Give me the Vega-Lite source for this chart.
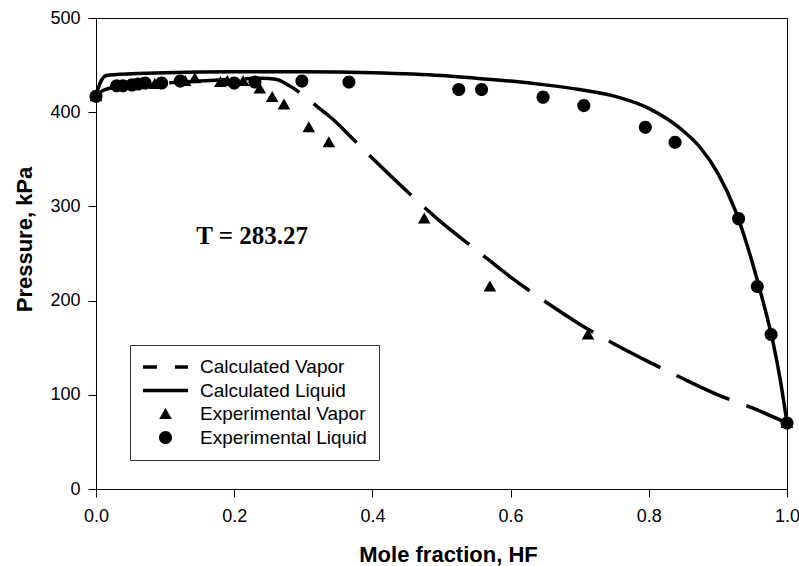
{
  "$schema": "https://vega.github.io/schema/vega-lite/v6.json",
  "width": 691,
  "height": 471,
  "autosize": {"type": "none"},
  "padding": {"left": 96, "top": 18, "right": 12, "bottom": 77},
  "background": "white",
  "config": {
    "view": {"stroke": "black", "strokeWidth": 1},
    "axis": {
      "grid": false,
      "domainColor": "black",
      "tickColor": "black",
      "labelColor": "black",
      "titleColor": "black",
      "labelFont": "Liberation Sans",
      "labelFontSize": 18,
      "titleFont": "Liberation Sans",
      "titleFontSize": 22,
      "titleFontWeight": "bold",
      "tickSize": 8,
      "labelFlush": false
    }
  },
  "datasets": {
    "liquid": [
      {"x": 0, "P": 417}, {"x": 0.003, "P": 425}, {"x": 0.008, "P": 434}, {"x": 0.015, "P": 439},
      {"x": 0.03, "P": 440}, {"x": 0.06, "P": 441}, {"x": 0.1, "P": 442}, {"x": 0.2, "P": 443},
      {"x": 0.3, "P": 443}, {"x": 0.4, "P": 442}, {"x": 0.5, "P": 439}, {"x": 0.55, "P": 436},
      {"x": 0.6, "P": 433}, {"x": 0.65, "P": 429}, {"x": 0.7, "P": 424}, {"x": 0.75, "P": 417},
      {"x": 0.8, "P": 404}, {"x": 0.85, "P": 380}, {"x": 0.875, "P": 362}, {"x": 0.9, "P": 335},
      {"x": 0.925, "P": 296}, {"x": 0.95, "P": 240}, {"x": 0.965, "P": 200}, {"x": 0.98, "P": 155},
      {"x": 0.99, "P": 117}, {"x": 1.0, "P": 70}
    ],
    "vapor": [
      {"x": 0, "P": 417}, {"x": 0.01, "P": 423}, {"x": 0.03, "P": 427}, {"x": 0.06, "P": 429},
      {"x": 0.1, "P": 431}, {"x": 0.15, "P": 433}, {"x": 0.2, "P": 435}, {"x": 0.24, "P": 436},
      {"x": 0.26, "P": 435}, {"x": 0.28, "P": 428}, {"x": 0.3, "P": 418}, {"x": 0.32, "P": 406},
      {"x": 0.342, "P": 393}, {"x": 0.37, "P": 373}, {"x": 0.4, "P": 351}, {"x": 0.45, "P": 316},
      {"x": 0.5, "P": 283}, {"x": 0.55, "P": 254}, {"x": 0.6, "P": 225}, {"x": 0.65, "P": 199},
      {"x": 0.7, "P": 175}, {"x": 0.75, "P": 154}, {"x": 0.8, "P": 135}, {"x": 0.85, "P": 117},
      {"x": 0.9, "P": 100}, {"x": 0.95, "P": 86}, {"x": 1.0, "P": 70}
    ],
    "points": [
      {"x": 0.0, "P": 417, "series": "Experimental Vapor"},
      {"x": 0.085, "P": 430, "series": "Experimental Vapor"},
      {"x": 0.129, "P": 433, "series": "Experimental Vapor"},
      {"x": 0.143, "P": 436, "series": "Experimental Vapor"},
      {"x": 0.18, "P": 432, "series": "Experimental Vapor"},
      {"x": 0.19, "P": 433, "series": "Experimental Vapor"},
      {"x": 0.213, "P": 433, "series": "Experimental Vapor"},
      {"x": 0.237, "P": 425, "series": "Experimental Vapor"},
      {"x": 0.255, "P": 416, "series": "Experimental Vapor"},
      {"x": 0.272, "P": 408, "series": "Experimental Vapor"},
      {"x": 0.308, "P": 384, "series": "Experimental Vapor"},
      {"x": 0.337, "P": 368, "series": "Experimental Vapor"},
      {"x": 0.475, "P": 287, "series": "Experimental Vapor"},
      {"x": 0.57, "P": 215, "series": "Experimental Vapor"},
      {"x": 0.712, "P": 164, "series": "Experimental Vapor"},
      {"x": 1.0, "P": 70, "series": "Experimental Vapor"},
      {"x": 0.0, "P": 417, "series": "Experimental Liquid"},
      {"x": 0.03, "P": 428, "series": "Experimental Liquid"},
      {"x": 0.039, "P": 428, "series": "Experimental Liquid"},
      {"x": 0.052, "P": 429, "series": "Experimental Liquid"},
      {"x": 0.061, "P": 430, "series": "Experimental Liquid"},
      {"x": 0.071, "P": 431, "series": "Experimental Liquid"},
      {"x": 0.095, "P": 431, "series": "Experimental Liquid"},
      {"x": 0.122, "P": 433, "series": "Experimental Liquid"},
      {"x": 0.2, "P": 431, "series": "Experimental Liquid"},
      {"x": 0.23, "P": 432, "series": "Experimental Liquid"},
      {"x": 0.298, "P": 433, "series": "Experimental Liquid"},
      {"x": 0.366, "P": 432, "series": "Experimental Liquid"},
      {"x": 0.525, "P": 424, "series": "Experimental Liquid"},
      {"x": 0.558, "P": 424, "series": "Experimental Liquid"},
      {"x": 0.647, "P": 416, "series": "Experimental Liquid"},
      {"x": 0.706, "P": 407, "series": "Experimental Liquid"},
      {"x": 0.795, "P": 384, "series": "Experimental Liquid"},
      {"x": 0.838, "P": 368, "series": "Experimental Liquid"},
      {"x": 0.93, "P": 287, "series": "Experimental Liquid"},
      {"x": 0.957, "P": 215, "series": "Experimental Liquid"},
      {"x": 0.977, "P": 164, "series": "Experimental Liquid"},
      {"x": 1.0, "P": 70, "series": "Experimental Liquid"}
    ],
    "annot": [{"x": 0.226, "P": 269, "label": "T = 283.27"}]
  },
  "layer": [
    {
      "data": {"name": "vapor"},
      "mark": {"type": "line", "color": "black", "strokeWidth": 3.5, "strokeDash": [58, 18], "strokeCap": "butt", "interpolate": "monotone"},
      "encoding": {
        "x": {"field": "x", "type": "quantitative", "scale": {"domain": [0, 1], "nice": false},
              "axis": {"title": "Mole fraction, HF", "values": [0, 0.2, 0.4, 0.6, 0.8, 1.0], "format": ".1f", "labelPadding": 10, "titleX": 352, "titleY": 72, "titleBaseline": "alphabetic", "titleAlign": "center"}},
        "y": {"field": "P", "type": "quantitative", "scale": {"domain": [0, 500], "nice": false},
              "axis": {"title": "Pressure, kPa", "values": [0, 100, 200, 300, 400, 500], "labelPadding": 8, "titleX": -72, "titleY": 221, "titleBaseline": "middle", "titleAlign": "center", "titleAngle": -90}}
      }
    },
    {
      "data": {"name": "liquid"},
      "mark": {"type": "line", "color": "black", "strokeWidth": 3.5, "interpolate": "monotone"},
      "encoding": {
        "x": {"field": "x", "type": "quantitative"},
        "y": {"field": "P", "type": "quantitative"}
      }
    },
    {
      "data": {"name": "points"},
      "mark": {"type": "point", "filled": true, "color": "black", "opacity": 1, "size": 2025},
      "encoding": {
        "x": {"field": "x", "type": "quantitative"},
        "y": {"field": "P", "type": "quantitative"},
        "shape": {
          "field": "series", "type": "nominal",
          "scale": {
            "domain": ["Calculated Vapor", "Calculated Liquid", "Experimental Vapor", "Experimental Liquid"],
            "range": [
              "M-1,-0.08L-0.38,-0.08L-0.38,0.08L-1,0.08ZM0.42,-0.08L1,-0.08L1,0.08L0.42,0.08Z",
              "M-1,-0.08L1,-0.08L1,0.08L-1,0.08Z",
              "M0,-0.27L0.28,0.22L-0.28,0.22Z",
              "M-0.29,0A0.29,0.29 0 1,0 0.29,0A0.29,0.29 0 1,0 -0.29,0Z"
            ]
          },
          "legend": {
            "title": null,
            "orient": "none",
            "legendX": 34,
            "legendY": 327,
            "padding": 12,
            "symbolSize": 2025,
            "clipHeight": 20,
            "labelFont": "Liberation Sans",
            "labelFontSize": 19,
            "labelColor": "black",
            "labelLimit": 300,
            "labelOffset": 11,
            "rowPadding": 3.5,
            "fillColor": "white",
            "strokeColor": "#333333",
            "encode": {
              "symbols": {
                "update": {
                  "fill": {"value": "black"},
                  "opacity": {"value": 1}
                }
              }
            }
          }
        }
      }
    },
    {
      "data": {"name": "annot"},
      "mark": {"type": "text", "font": "Liberation Serif", "fontSize": 25, "fontWeight": "bold", "color": "black", "align": "center", "baseline": "middle"},
      "encoding": {
        "x": {"field": "x", "type": "quantitative"},
        "y": {"field": "P", "type": "quantitative"},
        "text": {"field": "label"}
      }
    }
  ]
}
